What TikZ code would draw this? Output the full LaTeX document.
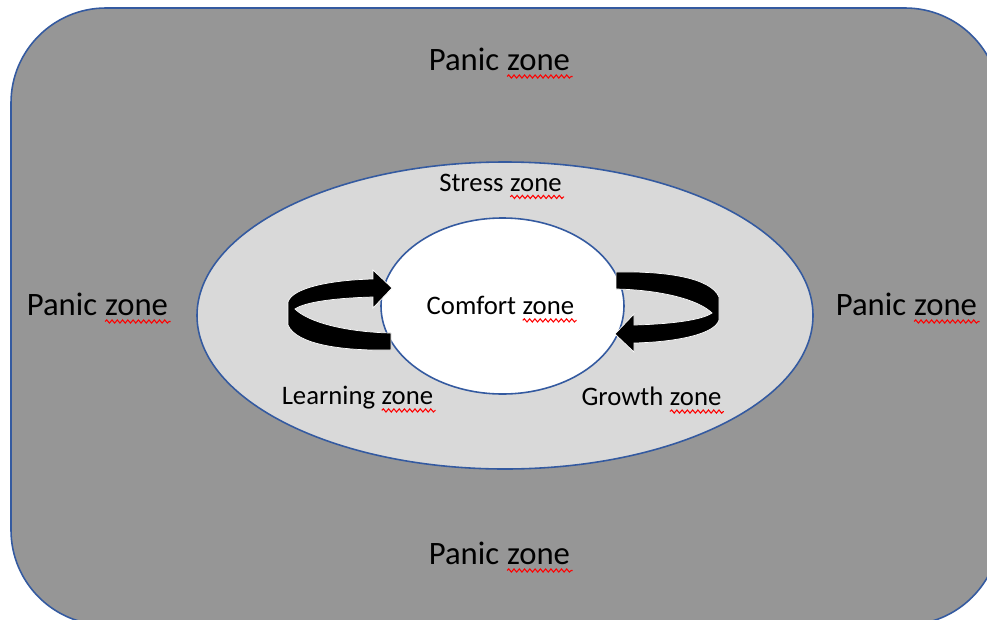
\documentclass[tikz,border=0pt]{standalone}
\usepackage{fontspec}
\setmainfont{Carlito}
\usepackage{tikz}
\usetikzlibrary{decorations.pathmorphing}

\definecolor{panicgray}{RGB}{150,150,150}
\definecolor{stressgray}{RGB}{217,217,217}
\definecolor{zoneblue}{RGB}{52,90,160}

% word with the red spell-check squiggle under it
\newcommand{\spell}[1]{\tikz[baseline=(w.base)]{%
  \node[inner sep=0pt, outer sep=0pt] (w) {#1};
  \draw[red, line width=0.6pt, decorate,
        decoration={snake, amplitude=0.9pt, segment length=3pt}]
    ([yshift=-3.2pt]w.base west) -- ([xshift=1.5pt,yshift=-3.2pt]w.base east);}}

\tikzset{
  zoneline/.style={draw=zoneblue, line width=0.9pt},
  bigzone/.style={font=\fontsize{18.6}{20}\selectfont, text=black},
  smallzone/.style={font=\fontsize{15.2}{17}\selectfont, text=black},
  cyclearrow/.style={fill=black, draw=white, line width=0.4pt}
}

\begin{document}
\begin{tikzpicture}[x=0.02cm, y=-0.02cm]
  \useasboundingbox (0,0) rectangle (987,619);
  \fill[white] (0,0) rectangle (987,619);
  \clip (0,0) rectangle (987,619);

  %% outer box: panic zone
  \draw[zoneline, fill=panicgray, rounded corners=1.9cm] (11,8) rectangle (1000,625);

  %% stress zone and comfort zone
  \draw[zoneline, fill=stressgray] (505,315.5) ellipse [x radius=308, y radius=153.5];
  \draw[zoneline, fill=white] (502.5,306) ellipse [x radius=121.5, y radius=88];

  %% the two turning arrows, second one is the first turned half round
  \foreach \ang in {0,180}{
    \begin{scope}[rotate around={\ang:(503.5,311)}]
      \path[cyclearrow] (391,350) .. controls (340,351) and (296,344) .. (288,325)
        -- (288,302) .. controls (292,288) and (330,280) .. (373,279)
        -- (373,270) -- (392,288) -- (373,308) -- (373,297)
        .. controls (335,298) and (305,302) .. (295,309)
        .. controls (308,322) and (345,332) .. (391,333) -- cycle;
    \end{scope}
  }

  %% labels
  \node[bigzone] (ptop) at (501,63.5) {Panic \spell{zone}};
  \node[bigzone] (pleft) at (99,308.5) {Panic \spell{zone}};
  \node[bigzone] (pright) at (908,308.5) {Panic \spell{zone}};
  \node[bigzone] (pbottom) at (501,557.5) {Panic \spell{zone}};

  \node[smallzone] (stress) at (502,186.5) {Stress \spell{zone}};
  \node[smallzone] (comfort) at (502,309.5) {Comfort \spell{zone}};
  \node[smallzone] (learning) at (359,399.5) {Learning \spell{zone}};
  \node[smallzone] (growth) at (653,400.5) {Growth \spell{zone}};
\end{tikzpicture}
\end{document}
